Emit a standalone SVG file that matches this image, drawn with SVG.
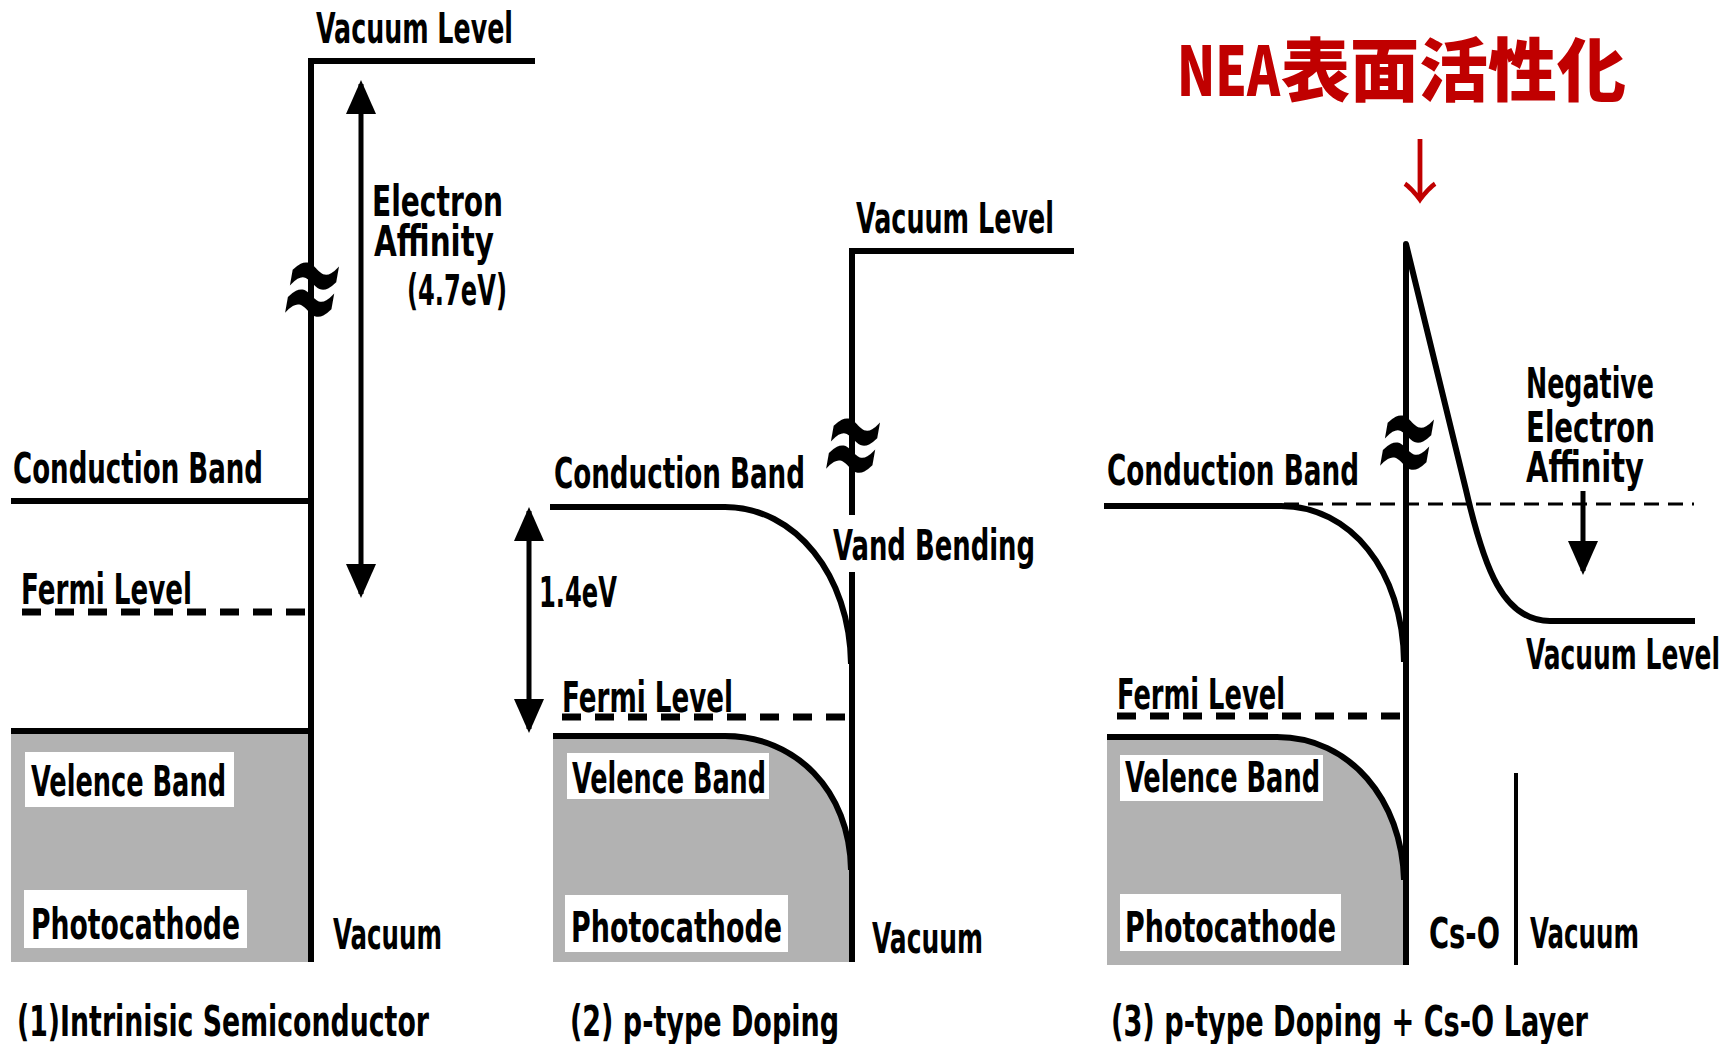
<svg xmlns="http://www.w3.org/2000/svg" width="1736" height="1044" viewBox="0 0 1736 1044">
<defs>
<marker id="ah" markerUnits="userSpaceOnUse" markerWidth="34" markerHeight="30" viewBox="0 0 34 30" refX="30" refY="15" orient="auto-start-reverse"><path d="M0,0 L34,15 L0,30 Z" fill="#000"/></marker>
<style>
.t{font-family:'DejaVu Sans Condensed','DejaVu Sans',sans-serif;font-weight:bold;font-stretch:condensed;font-size:42px;fill:#000}
.cap{font-size:43px}
.ln{fill:none;stroke:#000;stroke-width:6}
.thin{fill:none;stroke:#000;stroke-width:4}
.arr{fill:none;stroke:#000;stroke-width:5}
.fermi{fill:none;stroke:#000;stroke-width:7;stroke-dasharray:19 14}
.dash{fill:none;stroke:#000;stroke-width:3;stroke-dasharray:15 9}
.gray{fill:#b2b2b2}
.box{fill:#fff}
.brk{font-family:'DejaVu Sans',sans-serif;font-weight:bold;font-size:90px;fill:#000}
.red{font-family:'Noto Sans CJK JP','Noto Sans CJK SC',sans-serif;font-weight:900;fill:#c00000}
</style>
</defs>
<rect width="1736" height="1044" fill="#fff"/>

<!-- Panel 1 -->
<g id="p1-valence">
 <rect class="gray" x="11" y="731" width="300" height="231"/>
 <path class="ln" d="M11,731 H311"/>
 <rect class="box" x="25" y="752" width="209" height="55"/>
 <text class="t" x="31" y="796" textLength="195" lengthAdjust="spacingAndGlyphs">Velence Band</text>
</g>
<g id="p1-photocathode">
 <rect class="box" x="24" y="890" width="223" height="58"/>
 <text class="t" x="31" y="939" textLength="209" lengthAdjust="spacingAndGlyphs">Photocathode</text>
</g>
<g id="p1-vacuum-level">
 <path class="ln" d="M311,962 V61 H535"/>
 <text class="t" x="316" y="43" textLength="197" lengthAdjust="spacingAndGlyphs">Vacuum Level</text>
</g>
<g id="p1-conduction">
 <path class="ln" d="M11,501 H311"/>
 <text class="t" x="13" y="483" textLength="250" lengthAdjust="spacingAndGlyphs">Conduction Band</text>
</g>
<g id="p1-fermi">
 <path class="fermi" d="M22,612 H307"/>
 <text class="t" x="21" y="604" textLength="171" lengthAdjust="spacingAndGlyphs">Fermi Level</text>
</g>
<g id="p1-affinity">
 <text class="t" x="372" y="216" textLength="131" lengthAdjust="spacingAndGlyphs">Electron</text>
 <text class="t" x="374" y="256" textLength="120" lengthAdjust="spacingAndGlyphs">Affinity</text>
 <text class="t" x="407" y="305" textLength="100" lengthAdjust="spacingAndGlyphs">(4.7eV)</text>
</g>
<g id="p1-break"><text class="brk" text-anchor="middle" transform="translate(313,284) rotate(10) scale(0.8,1.5)" y="32">≈</text></g>
<g id="p1-vacuum"><text class="t" x="333" y="949" textLength="109" lengthAdjust="spacingAndGlyphs">Vacuum</text></g>
<g id="p1-caption"><text class="t cap" x="17" y="1036" textLength="412" lengthAdjust="spacingAndGlyphs">(1)Intrinisic Semiconductor</text></g>

<!-- Panel 2 -->
<g id="p2-valence">
 <path class="gray" d="M553,736 H725 C795,736 850,790 851,870 V962 H553 Z"/>
 <path class="ln" d="M553,736 H725 C795,736 850,790 851,870"/>
 <rect class="box" x="567" y="753" width="202" height="46"/>
 <text class="t" x="572" y="793" textLength="194" lengthAdjust="spacingAndGlyphs">Velence Band</text>
</g>
<g id="p2-photocathode">
 <rect class="box" x="565" y="895" width="223" height="57"/>
 <text class="t" x="571" y="942" textLength="211" lengthAdjust="spacingAndGlyphs">Photocathode</text>
</g>
<g id="p2-vacuum-level">
 <path class="ln" d="M852,962 V572 M852,515 V251 H1074"/>
 <text class="t" x="856" y="233" textLength="198" lengthAdjust="spacingAndGlyphs">Vacuum Level</text>
</g>
<g id="p2-conduction">
 <path class="ln" d="M550,507 H725 C795,507 850,575 851,664"/>
 <text class="t" x="554" y="488" textLength="251" lengthAdjust="spacingAndGlyphs">Conduction Band</text>
</g>
<g id="p2-fermi">
 <path class="fermi" d="M562,717 H850"/>
 <text class="t" x="562" y="712" textLength="171" lengthAdjust="spacingAndGlyphs">Fermi Level</text>
</g>
<g id="p2-gap"><text class="t" x="539" y="607" textLength="78" lengthAdjust="spacingAndGlyphs">1.4eV</text></g>
<g id="p2-bending"><text class="t" x="833" y="560" textLength="202" lengthAdjust="spacingAndGlyphs">Vand Bending</text></g>
<g id="p2-break"><text class="brk" text-anchor="middle" transform="translate(854,440) rotate(10) scale(0.8,1.5)" y="32">≈</text></g>
<g id="p2-vacuum"><text class="t" x="872" y="953" textLength="111" lengthAdjust="spacingAndGlyphs">Vacuum</text></g>
<g id="p2-caption"><text class="t cap" x="570" y="1036" textLength="269" lengthAdjust="spacingAndGlyphs">(2) p-type Doping</text></g>

<!-- Panel 3 -->
<g id="p3-title">
 <text class="red" x="1177" y="96" font-size="69"><tspan textLength="103" lengthAdjust="spacingAndGlyphs">NEA</tspan><tspan x="1281">表面活性化</tspan></text>
 <text x="1420" y="198" text-anchor="middle" font-family="'Noto Sans CJK JP',sans-serif" font-size="70" fill="#c00000">↓</text>
</g>
<g id="p3-valence">
 <path class="gray" d="M1107,737 H1277 C1350,737 1402,800 1404,880 V965 H1107 Z"/>
 <path class="ln" d="M1107,737 H1277 C1350,737 1402,800 1404,880"/>
 <rect class="box" x="1120" y="755" width="203" height="46"/>
 <text class="t" x="1125" y="792" textLength="195" lengthAdjust="spacingAndGlyphs">Velence Band</text>
</g>
<g id="p3-photocathode">
 <rect class="box" x="1120" y="894" width="221" height="57"/>
 <text class="t" x="1125" y="942" textLength="211" lengthAdjust="spacingAndGlyphs">Photocathode</text>
</g>
<g id="p3-vacuum-level">
 <path class="ln" stroke-linejoin="round" d="M1406,965 V244 L1466,490 C1484,568 1503,621 1550,621 H1695"/>
 <path class="dash" d="M1284,504 H1694"/>
 <text class="t" x="1526" y="669" textLength="194" lengthAdjust="spacingAndGlyphs">Vacuum Level</text>
</g>
<g id="p3-conduction">
 <path class="ln" d="M1104,506 H1281 C1350,506 1403,570 1404,662"/>
 <text class="t" x="1107" y="485" textLength="252" lengthAdjust="spacingAndGlyphs">Conduction Band</text>
</g>
<g id="p3-fermi">
 <path class="fermi" d="M1117,716 H1402"/>
 <text class="t" x="1117" y="709" textLength="168" lengthAdjust="spacingAndGlyphs">Fermi Level</text>
</g>
<g id="p3-nea">
 <text class="t" x="1526" y="398" textLength="128" lengthAdjust="spacingAndGlyphs">Negative</text>
 <text class="t" x="1526" y="442" textLength="129" lengthAdjust="spacingAndGlyphs">Electron</text>
 <text class="t" x="1526" y="482" textLength="118" lengthAdjust="spacingAndGlyphs">Affinity</text>
</g>
<g id="p3-break"><text class="brk" text-anchor="middle" transform="translate(1408,437) rotate(10) scale(0.8,1.5)" y="32">≈</text></g>
<g id="p3-csO">
 <path class="thin" d="M1516,773 V965"/>
 <text class="t" x="1429" y="948" textLength="71" lengthAdjust="spacingAndGlyphs">Cs-O</text>
</g>
<g id="p3-vacuum"><text class="t" x="1530" y="948" textLength="109" lengthAdjust="spacingAndGlyphs">Vacuum</text></g>
<g id="p3-caption"><text class="t cap" x="1111" y="1036" textLength="477" lengthAdjust="spacingAndGlyphs">(3) p-type Doping + Cs-O Layer</text></g>

<!-- Connectors -->
<g id="connectors">
 <path class="arr" d="M361,84 V594" marker-start="url(#ah)" marker-end="url(#ah)"/>
 <path class="arr" d="M529,511 V729" marker-start="url(#ah)" marker-end="url(#ah)"/>
 <path class="arr" d="M1583,491 V571" marker-end="url(#ah)"/>
</g>
</svg>
